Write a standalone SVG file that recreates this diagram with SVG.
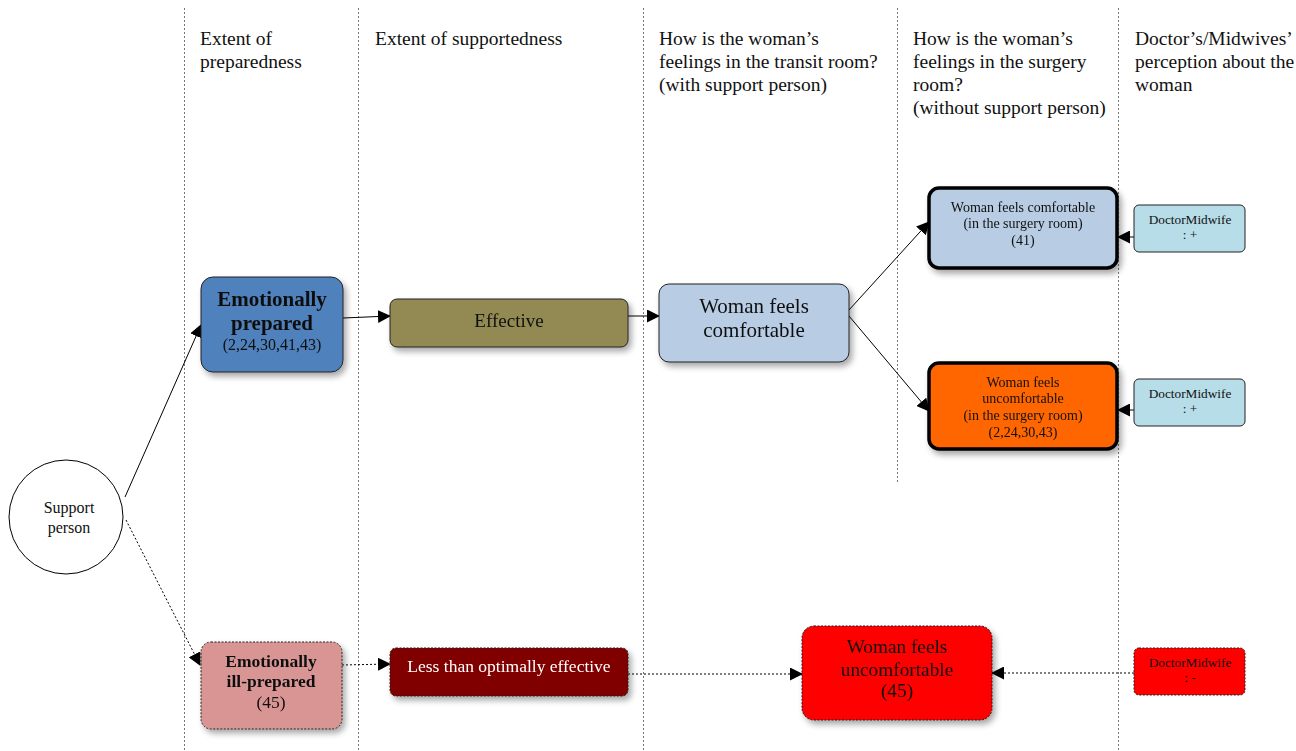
<svg xmlns="http://www.w3.org/2000/svg" width="1296" height="751" viewBox="0 0 1296 751">
  <style>
    .hdr { font-family: "Liberation Serif", "Times New Roman", serif; font-size: 19.5px; fill: #111; }
    .lane { stroke: #777; stroke-width: 1; stroke-dasharray: 2 2; fill: none; }
    .t { font-family: "Liberation Serif", "Times New Roman", serif; fill: #111; text-anchor: middle; }
    .box { stroke: #222; stroke-width: 1; }
    .thick { stroke: #000; stroke-width: 3.5; }
    .dash { stroke-dasharray: 2 1.5; }
    .edge { stroke: #000; stroke-width: 1; fill: none; }
    .edge.dash { stroke-dasharray: 2 2; }
  </style>
  <defs>
    <marker id="arr" viewBox="0 0 13 13" refX="12" refY="6.5" markerWidth="13" markerHeight="13" markerUnits="userSpaceOnUse" orient="auto">
      <path d="M0,0 L13,6.5 L0,13 Z" fill="#000"/>
    </marker>
    <filter id="sh" x="-20%" y="-20%" width="150%" height="160%">
      <feGaussianBlur in="SourceAlpha" stdDeviation="3"/>
      <feOffset dx="3" dy="4" result="b"/>
      <feComponentTransfer><feFuncA type="linear" slope="0.35"/></feComponentTransfer>
      <feMerge><feMergeNode/><feMergeNode in="SourceGraphic"/></feMerge>
    </filter>
  </defs>

  <rect width="1296" height="751" fill="#fff"/>

  <!-- swimlane separators -->
  <g id="lanes">
    <line class="lane" x1="184.5" y1="8" x2="184.5" y2="751"/>
    <line class="lane" x1="358.5" y1="8" x2="358.5" y2="751"/>
    <line class="lane" x1="643.5" y1="8" x2="643.5" y2="751"/>
    <line class="lane" x1="897.5" y1="8" x2="897.5" y2="483"/>
    <line class="lane" x1="1118.5" y1="8" x2="1118.5" y2="751"/>
  </g>

  <!-- column headings -->
  <g id="headers">
    <text class="hdr" x="200" y="45">Extent of</text>
    <text class="hdr" x="200" y="68">preparedness</text>
    <text class="hdr" x="375" y="45">Extent of supportedness</text>
    <text class="hdr" x="659" y="45">How is the woman’s</text>
    <text class="hdr" x="659" y="68">feelings in the transit room?</text>
    <text class="hdr" x="659" y="91">(with support person)</text>
    <text class="hdr" x="913" y="45">How is the woman’s</text>
    <text class="hdr" x="913" y="68">feelings in the surgery</text>
    <text class="hdr" x="913" y="91">room?</text>
    <text class="hdr" x="913" y="114">(without support person)</text>
    <text class="hdr" x="1135" y="45">Doctor’s/Midwives’</text>
    <text class="hdr" x="1135" y="68">perception about the</text>
    <text class="hdr" x="1135" y="91">woman</text>
  </g>

  <!-- connectors -->
  <g id="connectors">
    <line class="edge" x1="125" y1="497" x2="201" y2="325" marker-end="url(#arr)"/>
    <line class="edge dash" x1="126" y1="520" x2="200" y2="665" marker-end="url(#arr)"/>
    <line class="edge" x1="343" y1="318" x2="390" y2="316" marker-end="url(#arr)"/>
    <line class="edge" x1="628" y1="316" x2="659" y2="316" marker-end="url(#arr)"/>
    <line class="edge" x1="849" y1="310" x2="929" y2="222" marker-end="url(#arr)"/>
    <line class="edge" x1="849" y1="316" x2="929" y2="411" marker-end="url(#arr)"/>
    <line class="edge" x1="1134" y1="237" x2="1118" y2="237" marker-end="url(#arr)"/>
    <line class="edge" x1="1134" y1="410" x2="1118" y2="410" marker-end="url(#arr)"/>
    <line class="edge dash" x1="342" y1="665" x2="390" y2="664" marker-end="url(#arr)"/>
    <line class="edge dash" x1="628" y1="674" x2="802" y2="674" marker-end="url(#arr)"/>
    <line class="edge dash" x1="1134" y1="673" x2="992" y2="673" marker-end="url(#arr)"/>
  </g>

  <g id="support-person">
    <circle cx="66" cy="517" r="57" fill="#fff" stroke="#000" stroke-width="1"/>
    <text class="t" x="69" y="513" font-size="16">Support</text>
    <text class="t" x="69" y="533" font-size="16">person</text>
  </g>

  <g id="emotionally-prepared" filter="url(#sh)">
    <rect class="box" x="201" y="277" width="142" height="95" rx="12" fill="#4f81bd"/>
    <text class="t" x="272" y="306" font-size="21" font-weight="bold">Emotionally</text>
    <text class="t" x="272" y="330" font-size="21" font-weight="bold">prepared</text>
    <text class="t" x="272" y="350" font-size="16">(2,24,30,41,43)</text>
  </g>

  <g id="effective" filter="url(#sh)">
    <rect class="box" x="390" y="299" width="238" height="48" rx="7" fill="#938953"/>
    <text class="t" x="509" y="327" font-size="19">Effective</text>
  </g>

  <g id="woman-comfortable-transit" filter="url(#sh)">
    <rect class="box" x="659" y="284" width="190" height="78" rx="10" fill="#b8cce4"/>
    <text class="t" x="754" y="313" font-size="21">Woman feels</text>
    <text class="t" x="754" y="337" font-size="21">comfortable</text>
  </g>

  <g id="woman-comfortable-surgery" filter="url(#sh)">
    <rect class="box thick" x="929" y="188" width="188" height="80" rx="10" fill="#b8cce4"/>
    <text class="t" x="1023" y="212" font-size="14">Woman feels comfortable</text>
    <text class="t" x="1023" y="228" font-size="14">(in the surgery room)</text>
    <text class="t" x="1023" y="245" font-size="14">(41)</text>
  </g>

  <g id="woman-uncomfortable-surgery" filter="url(#sh)">
    <rect class="box thick" x="929" y="363" width="188" height="86" rx="10" fill="#ff6600"/>
    <text class="t" x="1023" y="387" font-size="14">Woman feels</text>
    <text class="t" x="1023" y="403" font-size="14">uncomfortable</text>
    <text class="t" x="1023" y="420" font-size="14">(in the surgery room)</text>
    <text class="t" x="1023" y="437" font-size="14">(2,24,30,43)</text>
  </g>

  <g id="doctor-midwife-1">
    <rect class="box" x="1134" y="205" width="111" height="47" rx="5" fill="#b7dde8"/>
    <text class="t" x="1190" y="224" font-size="13.3">DoctorMidwife</text>
    <text class="t" x="1190" y="239" font-size="13.3">: +</text>
  </g>

  <g id="doctor-midwife-2">
    <rect class="box" x="1134" y="379" width="111" height="47" rx="5" fill="#b7dde8"/>
    <text class="t" x="1190" y="398" font-size="13.3">DoctorMidwife</text>
    <text class="t" x="1190" y="413" font-size="13.3">: +</text>
  </g>

  <g id="emotionally-ill-prepared" filter="url(#sh)">
    <rect class="box dash" x="201" y="642" width="141" height="87" rx="10" fill="#d99594"/>
    <text class="t" x="271" y="667" font-size="17.5" font-weight="bold">Emotionally</text>
    <text class="t" x="271" y="687" font-size="17.5" font-weight="bold">ill-prepared</text>
    <text class="t" x="271" y="708" font-size="17.5">(45)</text>
  </g>

  <g id="less-than-optimal" filter="url(#sh)">
    <rect class="box dash" x="390" y="648" width="238" height="48" rx="6" fill="#800000"/>
    <text class="t" x="509" y="672" font-size="17.5" style="fill:#fff">Less than optimally effective</text>
  </g>

  <g id="woman-uncomfortable-transit" filter="url(#sh)">
    <rect class="box dash" x="802" y="626" width="190" height="94" rx="12" fill="#ff0000"/>
    <text class="t" x="897" y="653" font-size="19.3">Woman feels</text>
    <text class="t" x="897" y="676" font-size="19.3">uncomfortable</text>
    <text class="t" x="897" y="697" font-size="19.3">(45)</text>
  </g>

  <g id="doctor-midwife-3">
    <rect class="box dash" x="1134" y="648" width="111" height="47" rx="5" fill="#ff0000"/>
    <text class="t" x="1190" y="667" font-size="13.3">DoctorMidwife</text>
    <text class="t" x="1190" y="682" font-size="13.3">: -</text>
  </g>
</svg>
